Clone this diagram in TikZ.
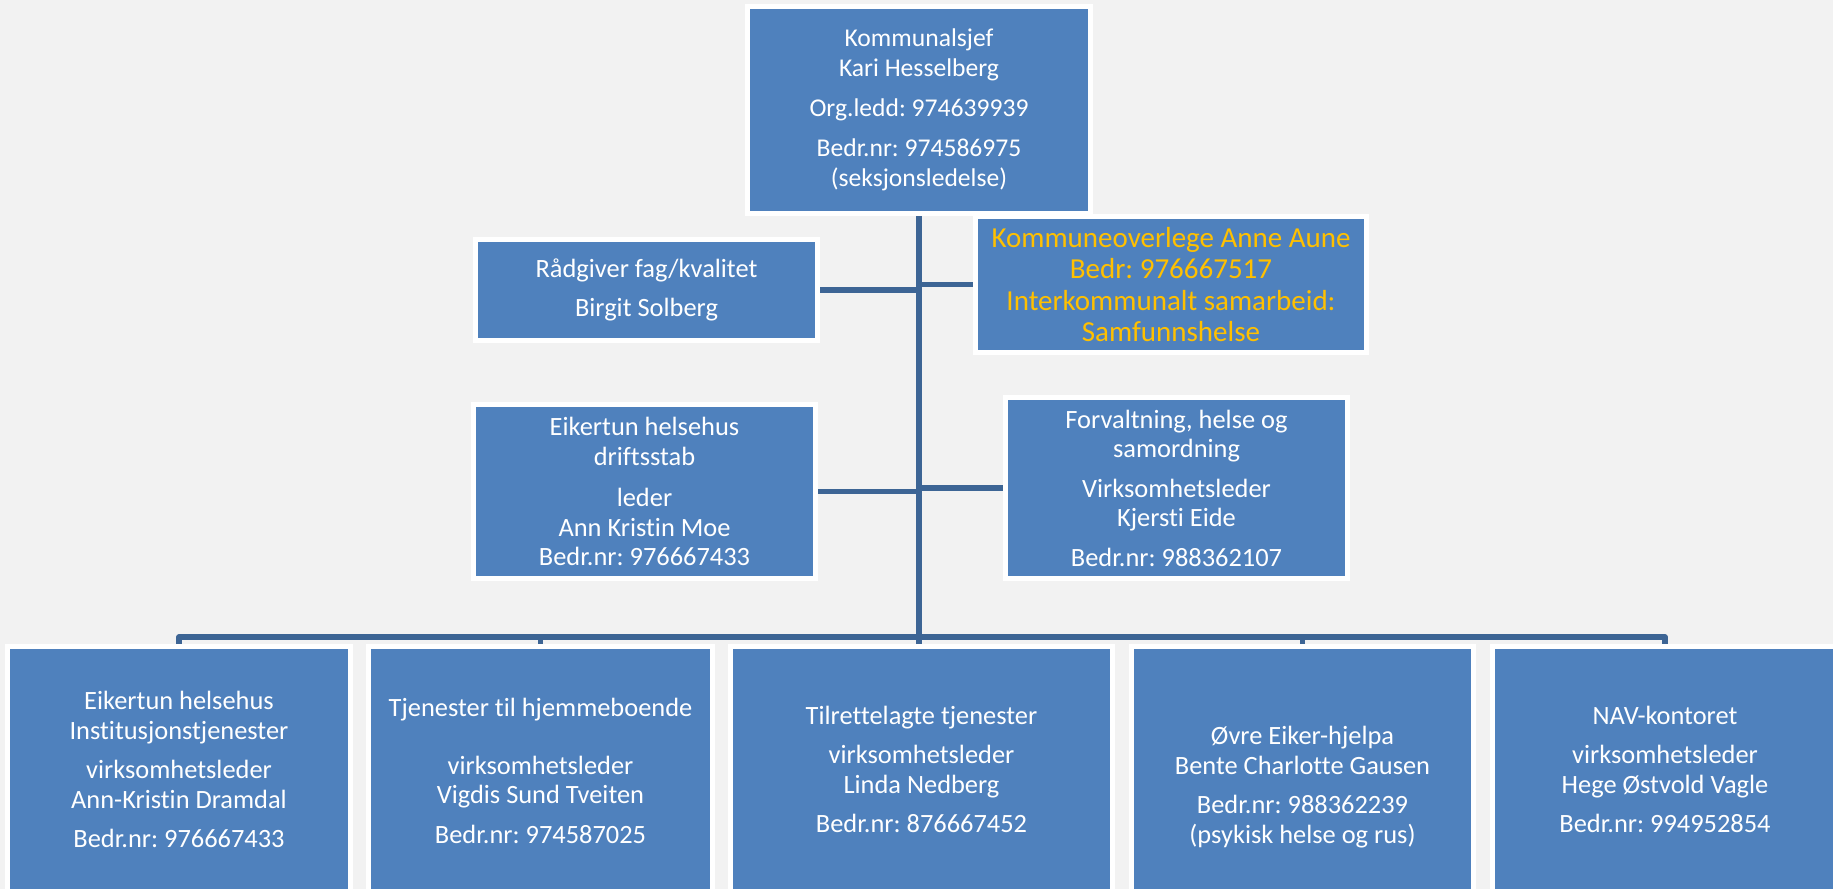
\documentclass[tikz,border=0pt]{standalone}
\usepackage{fontspec}
\setmainfont{Carlito}[RawFeature={-liga;-clig;-calt;-dlig}]
\frenchspacing
\usetikzlibrary{calc}
\definecolor{bggray}{HTML}{F2F2F2}
\definecolor{boxblue}{HTML}{4F81BD}
\definecolor{connblue}{HTML}{3D6595}
\definecolor{goldtext}{HTML}{FFC000}
\pgfdeclarelayer{bglayer}
\pgfdeclarelayer{connlayer}
\pgfsetlayers{bglayer,connlayer,main}
\begin{document}
\begin{tikzpicture}[x=0.5pt,y=-0.5pt,
  orgbox/.style={draw=white, line width=2.5pt, fill=boxblue, text=white,
    align=center, inner sep=0pt, outer sep=0pt},
  conn/.style={draw=connblue, line width=2.75pt},
  midfont/.style={font=\fontsize{13.2pt}{14.75pt}\selectfont\frenchspacing},
  topfont/.style={font=\fontsize{12.8pt}{15pt}\selectfont\frenchspacing},
  goldfont/.style={font=\fontsize{14.5pt}{15.8pt}\selectfont\frenchspacing, text=goldtext}]
\useasboundingbox (0,0) rectangle (1833,889);
\begin{pgfonlayer}{bglayer}
  \fill[bggray] (0,0) rectangle (1833,889);
\end{pgfonlayer}

% top
\node[orgbox, topfont, minimum width=171.5pt, minimum height=103.5pt] (top) at (919,110)
  {Kommunalsjef\\Kari Hesselberg\\[5pt]Org.ledd: 974639939\\[5pt]Bedr.nr: 974586975\\(seksjonsledelse)};

% assistants
\node[orgbox, midfont, minimum width=171pt, minimum height=50.5pt] (radgiver) at (646.5,290)
  {Rådgiver fag/kvalitet\\[5pt]Birgit Solberg};
\node[orgbox, goldfont, minimum width=195.5pt, minimum height=68pt] (overlege) at (1171,284.5)
  {Kommuneoverlege Anne Aune\\Bedr: 976667517\\Interkommunalt samarbeid:\\Samfunnshelse};
\node[orgbox, midfont, minimum width=171pt, minimum height=87pt] (drift) at (644.5,491.5)
  {Eikertun helsehus\\driftsstab\\[6pt]leder\\Ann Kristin Moe\\Bedr.nr: 976667433};
\node[orgbox, midfont, minimum width=171pt, minimum height=90.5pt] (forv) at (1176.5,488)
  {Forvaltning, helse og\\samordning\\[5pt]Virksomhetsleder\\Kjersti Eide\\[5pt]Bedr.nr: 988362107};

% bottom row
\node[orgbox, midfont, minimum width=171.5pt, minimum height=123pt] (b1) at (179,769.5)
  {Eikertun helsehus\\Institusjonstjenester\\[5pt]virksomhetsleder\\Ann-Kristin Dramdal\\[5pt]Bedr.nr: 976667433};
\node[orgbox, midfont, minimum width=172pt, minimum height=124pt] (b2) at (540.5,770.5)
  {Tjenester til hjemmeboende\\[14.25pt]virksomhetsleder\\Vigdis Sund Tveiten\\[5pt]Bedr.nr: 974587025};
\node[orgbox, midfont, minimum width=191pt, minimum height=123pt] (b3) at (921.5,769.5)
  {Tilrettelagte tjenester\\[5pt]virksomhetsleder\\Linda Nedberg\\[5pt]Bedr.nr: 876667452};
\node[orgbox, midfont, minimum width=171pt, minimum height=140.5pt] (b4) at (1302.5,787)
  {Øvre Eiker-hjelpa\\Bente Charlotte Gausen\\[5pt]Bedr.nr: 988362239\\(psykisk helse og rus)};
\node[orgbox, midfont, minimum width=172.5pt, minimum height=123pt] (b5) at (1665,769.5)
  {NAV-kontoret\\[5pt]virksomhetsleder\\Hege Østvold Vagle\\[5pt]Bedr.nr: 994952854};

\coordinate (bus) at (919,637);

\begin{pgfonlayer}{connlayer}
  \draw[conn] (top.south) -- (top.south |- b3.north);
  \draw[conn, line join=round] (b1.north) |- (bus) -| (b5.north);
  \draw[conn] (b2.north) -- (b2.north |- bus);
  \draw[conn] (b4.north) -- (b4.north |- bus);
  \draw[conn] (radgiver.east) -- (radgiver.east -| top.south);
  \draw[conn] (overlege.west) -- (overlege.west -| top.south);
  \draw[conn] (drift.east) -- (drift.east -| top.south);
  \draw[conn] (forv.west) -- (forv.west -| top.south);
\end{pgfonlayer}
\end{tikzpicture}
\end{document}
